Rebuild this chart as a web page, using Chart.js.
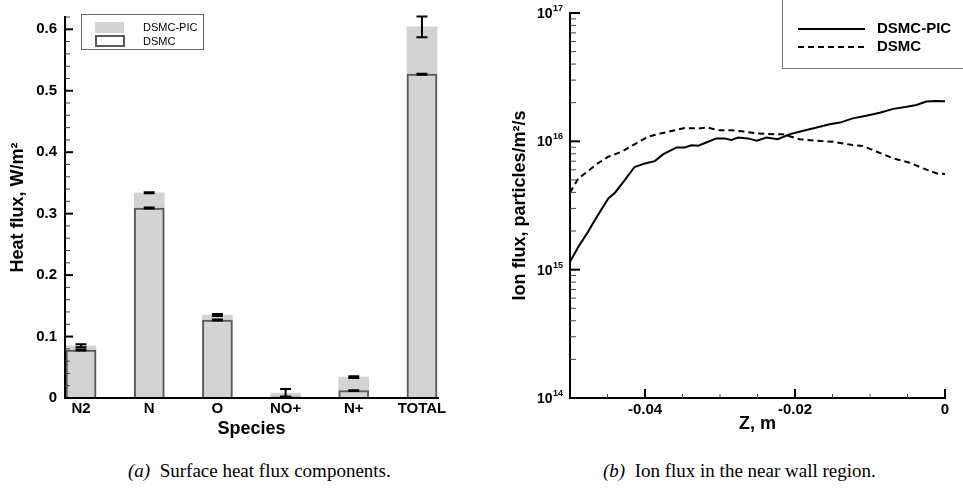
<!DOCTYPE html>
<html>
<head>
<meta charset="utf-8">
<script src="https://cdn.jsdelivr.net/npm/chart.js@4.4.1/dist/chart.umd.min.js"></script>
<style>
html, body { margin: 0; padding: 0; background: #fff; }
body { width: 963px; height: 496px; position: relative; overflow: hidden; }
canvas { position: absolute; top: 0; }
#heat { left: 0; }
#ion { left: 480px; }
.cap { position: absolute; top: 461px; font-family: 'Liberation Serif', 'Times New Roman', serif; font-size: 19px; line-height: 19px; color: #000; white-space: nowrap; }
</style>
</head>
<body>
<canvas id="heat" width="480" height="450"></canvas>
<canvas id="ion" width="483" height="450"></canvas>
<div class="cap" style="left:128px"><i>(a)</i>&nbsp; Surface heat flux components.</div>
<div class="cap" style="left:603px"><i>(b)</i>&nbsp; Ion flux in the near wall region.</div>
<script>
// (a) тепловой поток по компонентам
const species = ['N2', 'N', 'O', 'NO+', 'N+', 'TOTAL'];
const heatPic = [0.085, 0.334, 0.135, 0.008, 0.034, 0.604];
const heatPicErr = [0.0025, 0.001, 0.0015, 0.0065, 0.0015, 0.017];
const heatDsmc = [0.078, 0.309, 0.127, 0.002, 0.012, 0.527];
const heatDsmcErr = [0.0008, 0.0008, 0.0008, 0.0005, 0.0008, 0.0008];

// (b) поток ионов у стенки
const zPic = [-0.0500, -0.0489, -0.0476, -0.0463, -0.0449, -0.0440, -0.0427, -0.0414, -0.0400, -0.0387,
  -0.0376, -0.0358, -0.0347, -0.0338, -0.0329, -0.0316, -0.0305, -0.0294, -0.0285, -0.0276,
  -0.0263, -0.0251, -0.0238, -0.0223, -0.0207, -0.0189, -0.0171, -0.0154, -0.0140, -0.0123,
  -0.0105, -0.0087, -0.0069, -0.0051, -0.0038, -0.0025, -0.0012, 0];
const fluxPic = [1.15e15, 1.50e15, 1.97e15, 2.65e15, 3.59e15, 3.98e15, 4.99e15, 6.31e15, 6.73e15, 7.01e15,
  7.91e15, 8.97e15, 8.97e15, 9.33e15, 9.25e15, 9.93e15, 1.054e16, 1.054e16, 1.023e16, 1.07e16,
  1.054e16, 1.01e16, 1.07e16, 1.04e16, 1.135e16, 1.21e16, 1.28e16, 1.36e16, 1.40e16, 1.51e16,
  1.58e16, 1.67e16, 1.79e16, 1.86e16, 1.92e16, 2.04e16, 2.06e16, 2.05e16];
const zDsmc = [-0.0500, -0.0489, -0.0476, -0.0463, -0.0449, -0.0431, -0.0414, -0.0396, -0.0378, -0.0360,
  -0.0347, -0.0329, -0.0316, -0.0303, -0.0285, -0.0267, -0.0251, -0.0238, -0.0216, -0.0194,
  -0.0171, -0.0149, -0.0123, -0.0109, -0.0091, -0.0069, -0.0047, -0.0029, -0.0011, 0];
const fluxDsmc = [3.98e15, 5.13e15, 5.86e15, 6.73e15, 7.59e15, 8.30e15, 9.48e15, 1.086e16, 1.155e16, 1.22e16,
  1.27e16, 1.26e16, 1.28e16, 1.22e16, 1.22e16, 1.19e16, 1.155e16, 1.14e16, 1.135e16, 1.04e16,
  1.01e16, 9.93e15, 9.35e15, 9.18e15, 8.30e15, 7.36e15, 6.81e15, 6.15e15, 5.62e15, 5.56e15];
const fluxExps = [14, 15, 16, 17];

const FONT = "'Liberation Sans', Arial, Helvetica, sans-serif";
Chart.defaults.font.family = FONT;
Chart.defaults.color = '#000';

function tick(ctx, x1, y1, x2, y2, w, c) {
  ctx.lineWidth = w;
  ctx.strokeStyle = c;
  ctx.beginPath();
  ctx.moveTo(x1, y1);
  ctx.lineTo(x2, y2);
  ctx.stroke();
}

// планки погрешностей, засечки и легенда для (a)
const heatDecor = {
  id: 'heatDecor',
  afterDatasetsDraw(chart) {
    const ctx = chart.ctx, xs = chart.scales.x, ys = chart.scales.y;
    ctx.save();
    ctx.strokeStyle = '#000';
    ctx.lineWidth = 2;
    const bars = [[heatPic, heatPicErr], [heatDsmc, heatDsmcErr]];
    bars.forEach(([vals, errs]) => {
      vals.forEach((v, i) => {
        const x = xs.getPixelForValue(i + 1);
        const yt = ys.getPixelForValue(v + errs[i]);
        const yb = ys.getPixelForValue(v - errs[i]);
        ctx.beginPath();
        ctx.moveTo(x, yt); ctx.lineTo(x, yb);
        ctx.moveTo(x - 5.5, yt); ctx.lineTo(x + 5.5, yt);
        ctx.moveTo(x - 5.5, yb); ctx.lineTo(x + 5.5, yb);
        ctx.stroke();
      });
    });
    ctx.restore();
  },
  afterDraw(chart) {
    const ctx = chart.ctx, ys = chart.scales.y, a = chart.chartArea;
    ctx.save();
    for (let i = 0; i <= 31; i++) {
      const y = ys.getPixelForValue(i * 0.02);
      if (i % 5 === 0) tick(ctx, a.left, y, a.left + 8, y, 2, '#000');
      else tick(ctx, a.left, y, a.left + 5, y, 1, '#444');
    }
    // легенда
    ctx.fillStyle = '#fff';
    ctx.fillRect(81.5, 14.5, 122, 35);
    ctx.strokeStyle = '#666';
    ctx.lineWidth = 1;
    ctx.strokeRect(81.5, 14.5, 122, 35);
    const ds = chart.data.datasets;
    ctx.fillStyle = '#d3d3d3';
    ctx.fillRect(95, 22, 29, 11);
    ctx.strokeStyle = '#5a5a5a';
    ctx.lineWidth = 2;
    ctx.strokeRect(96, 36, 28, 10);
    ctx.fillStyle = '#000';
    ctx.font = '11px ' + FONT;
    ctx.textAlign = 'left';
    ctx.textBaseline = 'middle';
    ctx.fillText(ds[1].label, 143, 28);
    ctx.fillText(ds[0].label, 143, 42);
    ctx.restore();
  }
};

// засечки, подписи степеней и легенда для (b)
const ionDecor = {
  id: 'ionDecor',
  afterDraw(chart) {
    const ctx = chart.ctx, xs = chart.scales.x, ys = chart.scales.y, a = chart.chartArea;
    ctx.save();
    for (let e = 14; e <= 16; e++) {
      for (let m = 1; m <= 9; m++) {
        const y = ys.getPixelForValue(m * Math.pow(10, e));
        if (m === 1) tick(ctx, a.left, y, a.left + 10, y, 2, '#000');
        else tick(ctx, a.left, y, a.left + 6, y, 1, '#444');
      }
    }
    const yTop = ys.getPixelForValue(1e17);
    tick(ctx, a.left, yTop, a.left + 10, yTop, 2, '#000');
    for (let i = 1; i <= 10; i++) {
      const v = -0.05 + i * 0.005;
      const x = xs.getPixelForValue(v);
      if (i % 4 === 2) tick(ctx, x, a.bottom, x, a.bottom - 9, 2, '#000');
      else tick(ctx, x, a.bottom, x, a.bottom - 4, 1, '#444');
    }
    // подписи 10^n
    ctx.fillStyle = '#000';
    ctx.textBaseline = 'alphabetic';
    fluxExps.forEach(e => {
      const y = ys.getPixelForValue(Math.pow(10, e));
      const xr = a.left - 7;
      ctx.font = 'bold 9px ' + FONT;
      const ew = ctx.measureText(String(e)).width;
      ctx.textAlign = 'left';
      ctx.fillText(String(e), xr - ew, y - 2);
      ctx.font = 'bold 14px ' + FONT;
      ctx.textAlign = 'right';
      ctx.fillText('10', xr - ew - 0.5, y + 5);
    });
    // легенда
    ctx.fillStyle = '#fff';
    ctx.fillRect(303, 0, 180, 69);
    ctx.strokeStyle = '#777';
    ctx.lineWidth = 1;
    ctx.strokeRect(302.5, -1, 200, 69.5);
    const ds = chart.data.datasets;
    ctx.strokeStyle = '#000';
    ctx.lineWidth = 2;
    ctx.beginPath(); ctx.moveTo(318, 29); ctx.lineTo(385, 29); ctx.stroke();
    ctx.setLineDash([6, 4]);
    ctx.beginPath(); ctx.moveTo(318, 47); ctx.lineTo(385, 47); ctx.stroke();
    ctx.setLineDash([]);
    ctx.fillStyle = '#000';
    ctx.font = 'bold 15px ' + FONT;
    ctx.textAlign = 'left';
    ctx.textBaseline = 'middle';
    ctx.fillText(ds[0].label, 397, 29);
    ctx.fillText(ds[1].label, 397, 47);
    ctx.restore();
  }
};

new Chart(document.getElementById('heat'), {
  type: 'bar',
  data: {
    datasets: [
      {
        label: 'DSMC',
        data: species.map((s, i) => ({ x: i + 1, y: heatDsmc[i] })),
        backgroundColor: '#d3d3d3',
        borderColor: '#5a5a5a',
        borderWidth: 2,
        grouped: false,
        barThickness: 30,
        order: 0
      },
      {
        label: 'DSMC-PIC',
        data: species.map((s, i) => ({ x: i + 1, y: heatPic[i] })),
        backgroundColor: '#d3d3d3',
        borderWidth: 0,
        grouped: false,
        barThickness: 30,
        order: 1
      }
    ]
  },
  options: {
    responsive: false,
    animation: false,
    devicePixelRatio: 1,
    layout: { padding: { top: 14, right: 42, left: 0, bottom: 0 } },
    plugins: { legend: { display: false }, tooltip: { enabled: false } },
    scales: {
      x: {
        type: 'linear', min: 0.765, max: 6.235, offset: false,
        grid: { display: false, drawTicks: false },
        border: { display: true, color: '#000', width: 2, z: 1 },
        ticks: {
          stepSize: 1, includeBounds: false, padding: 2, autoSkip: false, maxRotation: 0,
          color: '#000', font: { size: 15, weight: 'bold' },
          callback: v => species[v - 1] || ''
        },
        title: { display: true, text: 'Species', color: '#000', font: { size: 18, weight: 'bold' }, padding: { top: 0, bottom: 10 } },
        afterFit: s => { s.height = 52; }
      },
      y: {
        min: 0, max: 0.62,
        grid: { display: false, drawTicks: false },
        border: { display: true, color: '#000', width: 2, z: 1 },
        ticks: {
          stepSize: 0.1, includeBounds: false, padding: 8,
          color: '#000', font: { size: 15, weight: 'bold' },
          callback: v => v === 0 ? '0' : v.toFixed(1)
        },
        title: { display: true, text: 'Heat flux, W/m²', color: '#000', font: { size: 18, weight: 'bold' }, padding: { top: 7, bottom: 0 } },
        afterFit: s => { s.width = 65; }
      }
    }
  },
  plugins: [heatDecor]
});

new Chart(document.getElementById('ion'), {
  type: 'line',
  data: {
    datasets: [
      {
        label: 'DSMC-PIC',
        data: zPic.map((z, i) => ({ x: z, y: fluxPic[i] })),
        borderColor: '#000', borderWidth: 2, pointRadius: 0, tension: 0, fill: false
      },
      {
        label: 'DSMC',
        data: zDsmc.map((z, i) => ({ x: z, y: fluxDsmc[i] })),
        borderColor: '#000', borderWidth: 2, borderDash: [6, 4], pointRadius: 0, tension: 0, fill: false
      }
    ]
  },
  options: {
    responsive: false,
    animation: false,
    devicePixelRatio: 1,
    layout: { padding: { top: 13, right: 18, left: 0, bottom: 0 } },
    plugins: { legend: { display: false }, tooltip: { enabled: false } },
    scales: {
      x: {
        type: 'linear', min: -0.05, max: 0,
        grid: { display: false, drawTicks: false },
        border: { display: true, color: '#000', width: 2, z: 1 },
        ticks: {
          stepSize: 0.02, includeBounds: false, padding: 3, maxRotation: 0,
          color: '#000', font: { size: 15, weight: 'bold' },
          callback: v => Math.abs(v) < 1e-9 ? '0' : v.toFixed(2)
        },
        title: { display: true, text: 'Z, m', color: '#000', font: { size: 18, weight: 'bold' }, padding: { top: 0, bottom: 15 } },
        afterFit: s => { s.height = 52; }
      },
      y: {
        type: 'logarithmic', min: 1e14, max: 1e17,
        grid: { display: false, drawTicks: false },
        border: { display: true, color: '#000', width: 2, z: 1 },
        ticks: { display: false },
        title: { display: true, text: 'Ion flux, particles/m²/s', color: '#000', font: { size: 18, weight: 'bold' }, padding: { top: 29, bottom: 0 } },
        afterFit: s => { s.width = 90; }
      }
    }
  },
  plugins: [ionDecor]
});
</script>
</body>
</html>
